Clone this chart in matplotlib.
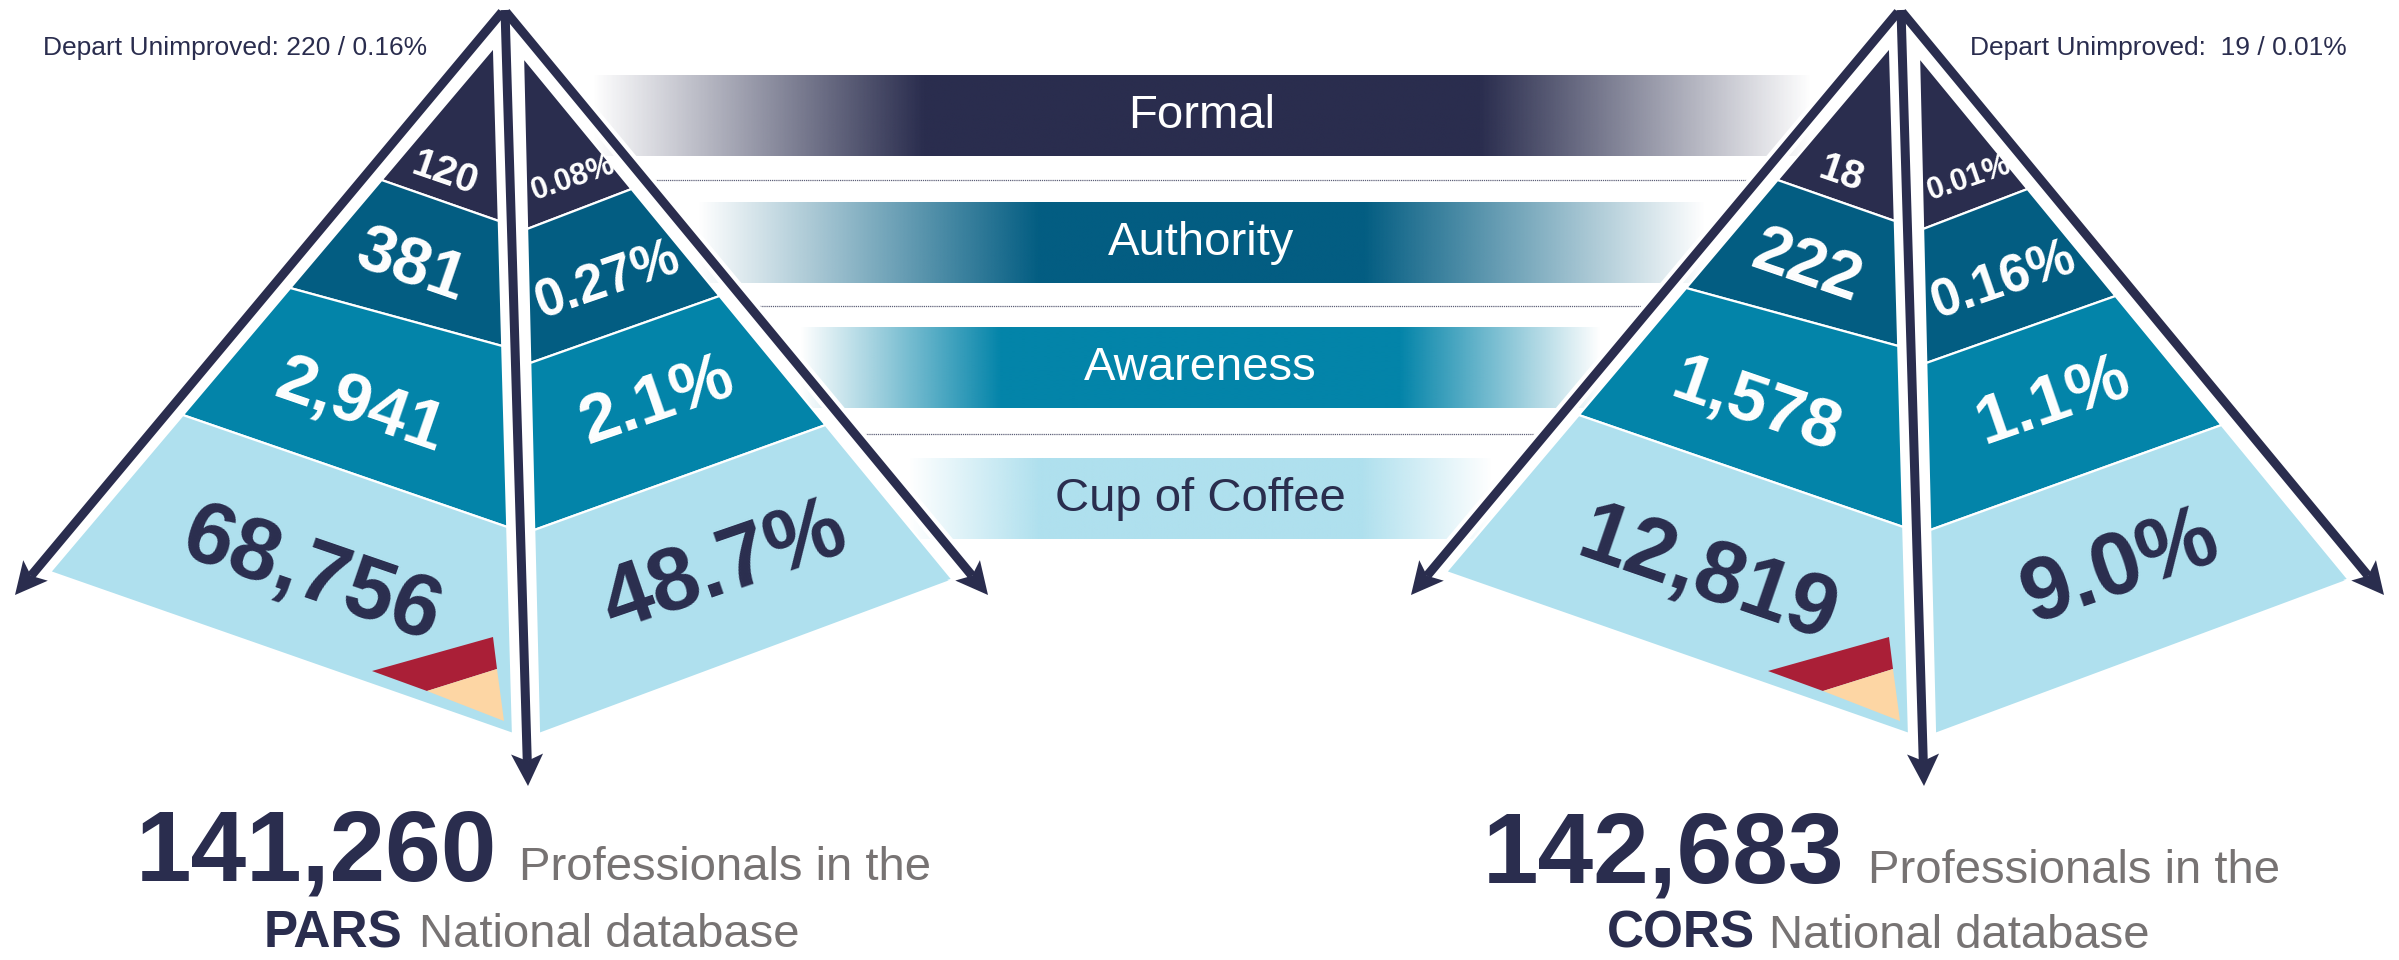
import numpy as np
import matplotlib.pyplot as plt
from matplotlib.patches import Polygon
from matplotlib.colors import to_rgb

plt.rcParams['font.family'] = ['Liberation Sans', 'DejaVu Sans']

# ---- data ----
tiers = ['Formal', 'Authority', 'Awareness', 'Cup of Coffee']
pars_counts = [120, 381, 2941, 68756]
pars_pcts = [0.08, 0.27, 2.1, 48.7]
cors_counts = [18, 222, 1578, 12819]
cors_pcts = [0.01, 0.16, 1.1, 9.0]
pct_decimals = [2, 2, 1, 1]
pars_total = 141260
cors_total = 142683
pars_depart = (220, 0.16)
cors_depart = (19, 0.01)

# ---- colours ----
NAVY = '#2A2D4E'
GREY = '#777373'
RED = '#AA1F37'
PEACH = '#FDD6A4'
tier_colors = [NAVY, '#035D82', '#0384A9', '#AFE0EE']
label_colors = ['white', 'white', 'white', NAVY]

# ---- pyramid shape, pixels relative to the apex x ----
L_TOP, L_BL, L_BC = (-10, 47), (-454, 572), (9, 734)
R_TOP, R_BR, R_BC = (19, 57), (449, 580), (35, 734)
L_OUT_Y, L_IN_Y = [180, 288, 415], [221, 346, 527]
R_IN_Y, R_OUT_Y = [229, 363, 530], [189, 296, 425]
ARROWS = {'left': ((-2, 12), (-489, 595)),
          'right': ((2, 12), (484, 595)),
          'center': ((1, 10), (24, 786))}
count_pos = [(-59, 174), (-93, 268), (-144, 407), (-192, 577)]
pct_pos = [(69, 178), (104, 281), (153, 402), (221, 568)]
count_size = [29, 48, 50, 63]
pct_size = [22, 38, 50, 64]
red_piece = [(-132, 671), (-11, 637), (-7, 669), (-77, 691)]
peach_piece = [(-77, 691), (-7, 669), (0, 721)]

PARS_X, CORS_X = 504, 1900
BAR_Y = [116, 243, 368, 499]
BAR_H = 81
BAR_RAMP = [330, 340, 200, 130]

fig = plt.figure(figsize=(23.99, 9.6), dpi=100)
ax = fig.add_axes([0, 0, 1, 1])
ax.set_xlim(0, 2399)
ax.set_ylim(960, 0)
ax.axis('off')


def on_edge(p, q, y):
    return (p[0] + (q[0] - p[0]) * (y - p[1]) / (q[1] - p[1]), y)


def arrow_x(cx, name, y):
    s, t = ARROWS[name]
    return cx + on_edge(s, t, y)[0]


def face_bands(top, outer, inner, out_y, in_y):
    outs = [top] + [on_edge(top, outer, y) for y in out_y] + [outer]
    ins = [top] + [on_edge(top, inner, y) for y in in_y] + [inner]
    return [[outs[k], ins[k], ins[k + 1], outs[k + 1]] for k in range(4)]


def shift(pts, cx):
    return [(cx + x, y) for x, y in pts]


def draw_arrows(cx):
    shafts, heads = [], []
    for name in ['left', 'right', 'center']:
        s, t = ARROWS[name]
        s = np.array([cx + s[0], s[1]], float)
        t = np.array([cx + t[0], t[1]], float)
        u = (t - s) / np.hypot(*(t - s))
        n = np.array([-u[1], u[0]])
        hl, hw, notch = 32, 16, 7
        end = t - u * (hl - notch)
        shafts.append((s, end))
        heads.append([t, t - u * hl + n * hw, end, t - u * hl - n * hw])
    # white halo first, navy on top
    for (s, e), h in zip(shafts, heads):
        ax.plot([s[0], e[0]], [s[1], e[1]], color='white', lw=12.5,
                solid_capstyle='butt', zorder=5)
        ax.add_patch(Polygon(h, closed=True, facecolor='white',
                             edgecolor='white', lw=4, zorder=5))
    for (s, e), h in zip(shafts, heads):
        ax.plot([s[0], e[0]], [s[1], e[1]], color=NAVY, lw=6.5,
                solid_capstyle='butt', zorder=6)
        ax.add_patch(Polygon(h, closed=True, facecolor=NAVY,
                             edgecolor='none', zorder=6))


def draw_pyramid(cx, counts, pcts, depart, depart_xy):
    left = face_bands(L_TOP, L_BL, L_BC, L_OUT_Y, L_IN_Y)
    right = face_bands(R_TOP, R_BR, R_BC, R_OUT_Y, R_IN_Y)
    for k in range(4):
        for poly in (left[k], right[k]):
            ax.add_patch(Polygon(shift(poly, cx), closed=True,
                                 facecolor=tier_colors[k], edgecolor='white',
                                 lw=1.6, zorder=3))
    ax.add_patch(Polygon(shift(red_piece, cx), closed=True,
                         facecolor=RED, edgecolor='none', zorder=4))
    ax.add_patch(Polygon(shift(peach_piece, cx), closed=True,
                         facecolor=PEACH, edgecolor='none', zorder=4))
    for k in range(4):
        x, y = count_pos[k]
        ax.text(cx + x, y, f'{counts[k]:,}', color=label_colors[k],
                fontsize=count_size[k], fontweight='bold', rotation=-19,
                rotation_mode='anchor', ha='center', va='center', zorder=7)
        x, y = pct_pos[k]
        ax.text(cx + x, y, f'{pcts[k]:.{pct_decimals[k]}f}%',
                color=label_colors[k], fontsize=pct_size[k],
                fontweight='bold', rotation=19, rotation_mode='anchor',
                ha='center', va='center', zorder=7)
    draw_arrows(cx)
    n, p = depart
    gap = ' ' if n > 99 else '  '
    ax.text(depart_xy[0], depart_xy[1],
            f'Depart Unimproved:{gap}{n} / {p:.2f}%', color=NAVY,
            fontsize=19, ha='left', va='center', zorder=7)


# ---- gradient bars between the pyramids ----
for k, name in enumerate(tiers):
    y = BAR_Y[k]
    x0 = arrow_x(PARS_X, 'right', y)
    x1 = arrow_x(CORS_X, 'left', y)
    xs = np.linspace(x0, x1, 800)
    mid = (x0 + x1) / 2
    alpha = np.clip(((x1 - x0) / 2 - np.abs(xs - mid)) / BAR_RAMP[k], 0, 1)
    img = np.zeros((1, len(xs), 4))
    img[..., :3] = to_rgb(tier_colors[k])
    img[..., 3] = alpha
    ax.imshow(img, extent=(x0, x1, y + BAR_H / 2, y - BAR_H / 2),
              aspect='auto', interpolation='bilinear', zorder=1)
    ax.text(mid, y, name, color=label_colors[k], fontsize=34,
            ha='center', va='center', zorder=2)

# thin dotted separators
for k in range(3):
    y = (BAR_Y[k] + BAR_Y[k + 1]) / 2
    ax.plot([arrow_x(PARS_X, 'right', y), arrow_x(CORS_X, 'left', y)], [y, y],
            color='#5E6078', lw=0.9, linestyle=(0, (1, 0.7)), zorder=1)

draw_pyramid(PARS_X, pars_counts, pars_pcts, pars_depart, (43, 48))
draw_pyramid(CORS_X, cors_counts, cors_pcts, cors_depart, (1970, 48))

# ---- totals under each pyramid ----
for total, db, xs, base in [(pars_total, 'PARS', (136, 519, 264, 419), (880, 947)),
                            (cors_total, 'CORS', (1483, 1868, 1607, 1769), (883, 948))]:
    ax.text(xs[0], base[0], f'{total:,}', color=NAVY, fontsize=72,
            fontweight='bold', ha='left', va='baseline')
    ax.text(xs[1], base[0], 'Professionals in the', color=GREY, fontsize=34,
            ha='left', va='baseline')
    ax.text(xs[2], base[1], db, color=NAVY, fontsize=37, fontweight='bold',
            ha='left', va='baseline')
    ax.text(xs[3], base[1], 'National database', color=GREY, fontsize=34,
            ha='left', va='baseline')

ax.set_xlim(0, 2399)
ax.set_ylim(960, 0)
fig.savefig('out.png', dpi=100)
